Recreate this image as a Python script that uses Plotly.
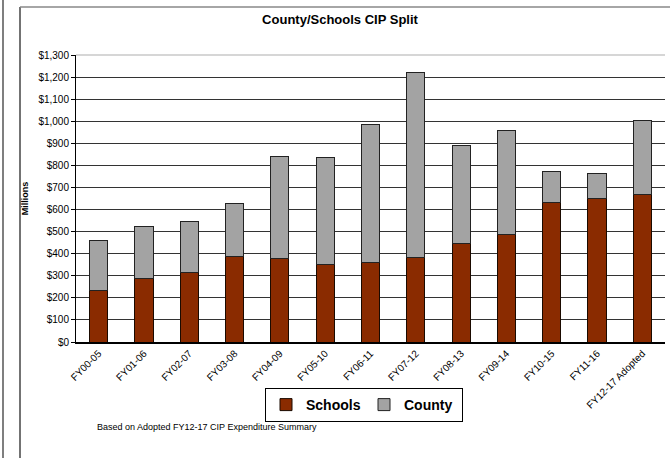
import plotly.graph_objects as go

categories = ["FY00-05", "FY01-06", "FY02-07", "FY03-08", "FY04-09", "FY05-10",
              "FY06-11", "FY07-12", "FY08-13", "FY09-14", "FY10-15", "FY11-16",
              "FY12-17 Adopted"]
schools = [234, 288, 317, 388, 376, 349, 358, 382, 448, 489, 631, 650, 670]
county = [225, 233, 229, 238, 466, 487, 625, 841, 444, 469, 143, 115, 335]
y_ticks = list(range(0, 1301, 100))
y_tick_labels = ["${:,}".format(v) for v in y_ticks]

W, H = 670, 458
L, R, T, B = 76, 665, 55, 342

def px(x):
    return (x - L) / (R - L)

def py(y):
    return (B - y) / (B - T)

fig = go.Figure()
fig.add_trace(go.Bar(x=categories, y=schools, name="<b>Schools</b>",
                     marker=dict(color="#8A2B00", line=dict(color="#1a0a00", width=1))))
fig.add_trace(go.Bar(x=categories, y=county, name="<b>County</b>",
                     marker=dict(color="#A3A3A3", line=dict(color="#222222", width=1))))

fig.update_layout(
    barmode="stack",
    bargap=0.6,
    width=W, height=H,
    margin=dict(l=L, r=W - R, t=T, b=H - B, autoexpand=False),
    paper_bgcolor="white",
    plot_bgcolor="white",
    font=dict(family="Arial, Liberation Sans, sans-serif", color="black", size=9),
    title=dict(text="<b>County/Schools CIP Split</b>", x=340 / W, xanchor="center",
               y=1 - 19 / H, yanchor="middle", font=dict(size=13)),
    showlegend=True,
    legend=dict(orientation="h", x=px(364), xanchor="center", y=py(405), yanchor="middle",
                bordercolor="black", borderwidth=1, font=dict(size=14),
                itemwidth=30, entrywidth=53, tracegroupgap=0, traceorder="normal"),
    xaxis=dict(tickangle=-45, showline=True, linecolor="black", linewidth=1.5,
               tickfont=dict(size=10), ticks=""),
    yaxis=dict(range=[0, 1300], tickmode="array", tickvals=y_ticks, ticktext=y_tick_labels,
               showgrid=True, gridcolor="#333333", gridwidth=1,
               showline=True, linecolor="black", linewidth=1,
               ticks="outside", ticklen=4, tickcolor="black",
               tickfont=dict(size=10),
               title=dict(text="<b>Millions</b>", font=dict(size=9), standoff=8)),
)

fig.add_annotation(text="Based on Adopted FY12-17 CIP Expenditure Summary",
                   xref="paper", yref="paper", x=px(95), y=py(427),
                   xanchor="left", yanchor="middle", showarrow=False, font=dict(size=9))

# top gray gridline at 1300
fig.add_shape(type="line", xref="paper", yref="paper", x0=0, x1=1, y0=1, y1=1,
              line=dict(color="#c8c8c8", width=1.5))
# outer frames
fig.add_shape(type="line", xref="paper", yref="paper", x0=px(3), x1=px(3), y0=py(0), y1=py(460),
              line=dict(color="#555555", width=1.5))
fig.add_shape(type="line", xref="paper", yref="paper", x0=px(20), x1=px(20), y0=py(7), y1=py(460),
              line=dict(color="#444444", width=1.5))
fig.add_shape(type="line", xref="paper", yref="paper", x0=px(20), x1=px(672), y0=py(7), y1=py(7),
              line=dict(color="#888888", width=1.5))

fig.write_html("out.html", config={"displayModeBar": False},
               post_script="document.body.style.margin='0';")
